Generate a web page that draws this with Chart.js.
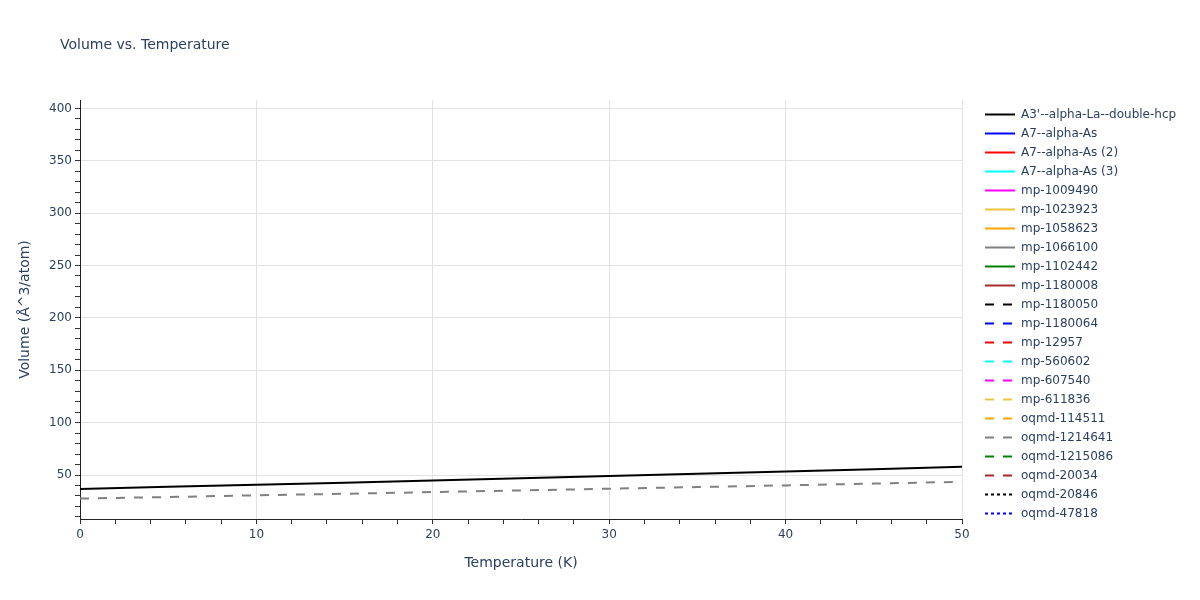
<!DOCTYPE html>
<html>
<head>
<meta charset="utf-8">
<script src="https://cdn.jsdelivr.net/npm/chart.js@4.4.1/dist/chart.umd.min.js"></script>
<style>
  html, body { margin: 0; padding: 0; background: #fff; }
  #wrap { width: 1200px; height: 600px; position: relative; }
</style>
</head>
<body>
<div id="wrap"><canvas id="chart"></canvas></div>
<script>
(function(){
    // Temperatures (K) sampled along the curves
    const temperatures = [0, 5, 10, 15, 20, 25, 30, 35, 40, 45, 50];

    // Series (Å^3/atom)
    const a3AlphaLa = [36.7, 38.7, 40.7, 42.7, 44.8, 46.9, 49.0, 51.2, 53.4, 55.6, 57.9];
    const oqmd1214641 = [27.5, 29.0, 30.6, 32.1, 33.7, 35.3, 36.9, 38.5, 40.1, 41.8, 43.5];

    // Legend entries, in order
    const seriesNames = [
        "A3'--alpha-La--double-hcp", 'A7--alpha-As', 'A7--alpha-As (2)', 'A7--alpha-As (3)',
        'mp-1009490', 'mp-1023923', 'mp-1058623', 'mp-1066100', 'mp-1102442', 'mp-1180008',
        'mp-1180050', 'mp-1180064', 'mp-12957', 'mp-560602', 'mp-607540', 'mp-611836',
        'oqmd-114511', 'oqmd-1214641', 'oqmd-1215086', 'oqmd-20034', 'oqmd-20846', 'oqmd-47818'
    ];
    const seriesColors = [
        '#000000', '#0000ff', '#ff0000', '#00ffff', '#ff00ff', '#ebc53c', '#ffa500', '#808080', '#008000', '#a52a2a',
        '#000000', '#0000ff', '#ff0000', '#00ffff', '#ff00ff', '#ebc53c', '#ffa500', '#808080', '#008000', '#a52a2a',
        '#000000', '#0000ff'
    ];
    const seriesDash = [
        'solid', 'solid', 'solid', 'solid', 'solid', 'solid', 'solid', 'solid', 'solid', 'solid',
        'dash', 'dash', 'dash', 'dash', 'dash', 'dash', 'dash', 'dash', 'dash', 'dash',
        'dot', 'dot'
    ];
    const seriesValues = {
        "A3'--alpha-La--double-hcp": a3AlphaLa,
        'oqmd-1214641': oqmd1214641
    };

    const xTicks = [0, 10, 20, 30, 40, 50];
    const yTicks = [50, 100, 150, 200, 250, 300, 350, 400];

    const TEXT = '#2a3f5f';
    const FONT = '"DejaVu Sans", verdana, arial, sans-serif';
    const DASHES = { solid: [], dash: [9, 9], dot: [3, 3] };

    const datasets = seriesNames.map(function(name, i){
        const vals = seriesValues[name] || [];
        return {
            label: name,
            data: vals.map(function(v, k){ return {x: temperatures[k], y: v}; }),
            borderColor: seriesColors[i],
            backgroundColor: seriesColors[i],
            borderWidth: 2,
            borderDash: DASHES[seriesDash[i]],
            pointRadius: 0,
            fill: false,
            tension: 0
        };
    });

    /**
     * Title and plotly-like legend drawn at fixed spots.
     */
    const decorPlugin = {
        id: 'decor',
        afterDraw: function(chart){
            const ctx = chart.ctx;
            ctx.save();
            ctx.fillStyle = TEXT;
            ctx.font = '14px ' + FONT;
            ctx.textBaseline = 'middle';
            ctx.textAlign = 'left';
            ctx.fillText('Volume vs. Temperature', 60, 45);

            ctx.font = '12px ' + FONT;
            chart.data.datasets.forEach(function(ds, i){
                const y = 114.5 + i * 19;
                ctx.beginPath();
                ctx.strokeStyle = ds.borderColor;
                ctx.lineWidth = 2;
                ctx.setLineDash(ds.borderDash);
                ctx.moveTo(985, y);
                ctx.lineTo(1015, y);
                ctx.stroke();
                ctx.setLineDash([]);
                ctx.fillStyle = TEXT;
                ctx.fillText(ds.label, 1021, y);
            });
            ctx.restore();
        }
    };

    function minorEvery(step){
        return function(scale){
            const out = [];
            for (let v = Math.ceil(scale.min / step) * step; v <= scale.max + 1e-9; v += step) {
                out.push({value: v});
            }
            scale.ticks = out;
        };
    }

    const ctx = document.getElementById('chart').getContext('2d');
    new Chart(ctx, {
        type: 'line',
        data: { datasets: datasets },
        plugins: [decorPlugin],
        options: {
            responsive: true,
            maintainAspectRatio: false,
            animation: false,
            layout: { padding: { top: 100, right: 238, left: 0, bottom: 0 } },
            plugins: {
                legend: { display: false },
                title: { display: false },
                tooltip: { enabled: false }
            },
            scales: {
                x: {
                    type: 'linear',
                    min: 0,
                    max: 50,
                    afterBuildTicks: minorEvery(2),
                    afterFit: function(scale){ scale.height = 81; },
                    grid: {
                        color: function(c){ return xTicks.indexOf(c.tick.value) >= 0 ? '#e2e2e2' : 'rgba(0,0,0,0)'; },
                        tickColor: '#333',
                        tickLength: 5,
                        lineWidth: 1
                    },
                    border: { display: true, color: '#222', width: 1 },
                    ticks: {
                        autoSkip: false,
                        maxRotation: 0,
                        padding: 4,
                        color: TEXT,
                        font: { family: FONT, size: 12 },
                        callback: function(v){ return xTicks.indexOf(v) >= 0 ? String(v) : ''; }
                    },
                    title: {
                        display: true,
                        text: 'Temperature (K)',
                        color: TEXT,
                        font: { family: FONT, size: 14 },
                        padding: { top: 0, bottom: 28 }
                    }
                },
                y: {
                    type: 'linear',
                    min: 8,
                    max: 408,
                    afterBuildTicks: minorEvery(10),
                    afterFit: function(scale){ scale.width = 80; },
                    grid: {
                        color: function(c){ return yTicks.indexOf(c.tick.value) >= 0 ? '#e2e2e2' : 'rgba(0,0,0,0)'; },
                        tickColor: '#333',
                        tickLength: 5,
                        lineWidth: 1
                    },
                    border: { display: true, color: '#222', width: 1 },
                    ticks: {
                        autoSkip: false,
                        padding: 3,
                        color: TEXT,
                        font: { family: FONT, size: 12 },
                        callback: function(v){ return yTicks.indexOf(v) >= 0 ? String(v) : ''; }
                    },
                    title: {
                        display: true,
                        text: 'Volume (Å^3/atom)',
                        color: TEXT,
                        font: { family: FONT, size: 14 },
                        padding: { top: 17, bottom: 0 }
                    }
                }
            }
        }
    });
})();
</script>
</body>
</html>
